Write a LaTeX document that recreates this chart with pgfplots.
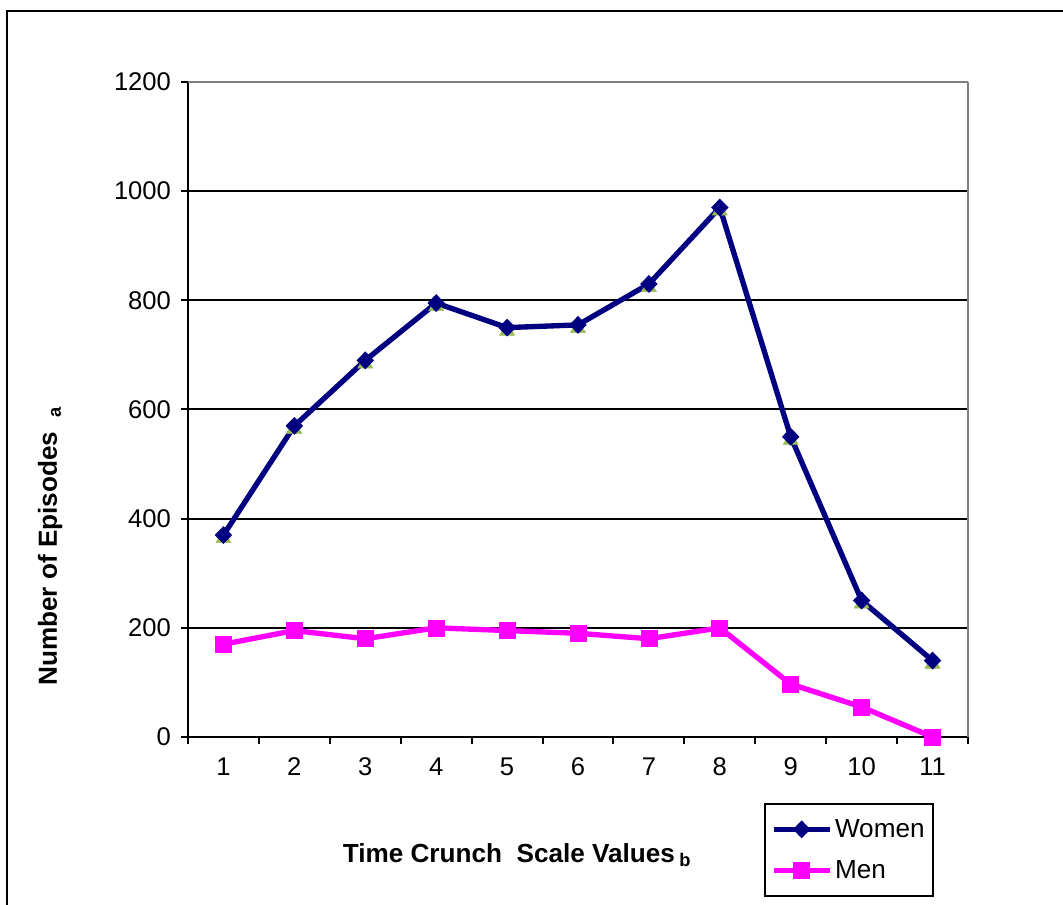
\documentclass[border=0pt]{standalone}
\usepackage{pgfplots}
\pgfplotsset{compat=1.18}
\usepackage{fontspec}
\setmainfont{Liberation Sans}
\definecolor{navyc}{HTML}{000080}
\definecolor{magc}{HTML}{FF00FF}
\definecolor{trig}{HTML}{9BBB59}
\begin{document}
\begin{tikzpicture}
\path[use as bounding box] (0,0) rectangle (797.25pt,678pt);
\draw[line width=1.5pt] (5.6pt,-20pt) rectangle (820pt,669.75pt);
\begin{axis}[
  at={(141pt,125.25pt)}, anchor=origin,
  width=585pt, height=491.25pt, scale only axis,
  xmin=0.5, xmax=11.5, ymin=0, ymax=1200,
  axis x line*=bottom, axis y line*=left,
  axis line style={-, black, line width=1.5pt},
  ytick={0,200,...,1000},
  extra y ticks={1200},
  extra y tick style={grid style={gray, line width=1.5pt}},
  ymajorgrids,
  grid style={black, line width=1.5pt},
  xtick={0.5,1.5,...,11.5},
  xticklabels={1,2,3,4,5,6,7,8,9,10,11,{}},
  xticklabel style={xshift=26.59pt, yshift=-7pt},
  yticklabel style={xshift=-4pt},
  major tick length=5.25pt,
  tick align=outside,
  tick style={black, line width=1.5pt},
  ticklabel style={font=\fontsize{19.2}{21}\selectfont},
  /pgf/number format/assume math mode=true,
  /pgf/number format/1000 sep={},
  clip=false,
  legend style={at={(0.7385,-0.1008)}, anchor=north west, draw=black, line width=1.5pt,
    font=\fontsize{19.6}{22}\selectfont, inner xsep=4.5pt, inner ysep=9.5pt, row sep=12pt,
    legend cell align=left},
  legend image code/.code={\draw[mark repeat=2,mark phase=2,#1] plot coordinates {(0pt,0pt) (21pt,0pt) (42pt,0pt)};},
]
\addplot[forget plot, draw=none, mark=triangle*, mark size=6.5pt, mark options={fill=trig, draw=trig, yshift=-2.5pt}]
 coordinates {(1,370) (2,570) (3,690) (4,795) (5,750) (6,755) (7,830) (8,970) (9,550) (10,250) (11,140)};
\addplot[navyc, line width=4pt, mark=diamond*, mark size=6pt, mark options={fill=navyc, draw=navyc, line width=1pt, xscale=1.3}]
 coordinates {(1,370) (2,570) (3,690) (4,795) (5,750) (6,755) (7,830) (8,970) (9,550) (10,250) (11,140)};
\addlegendentry{Women}
\addplot[magc, line width=4pt, mark=square*, mark size=6pt, mark options={fill=magc, draw=magc, line width=0.5pt}]
 coordinates {(1,170) (2,195) (3,180) (4,200) (5,195) (6,190) (7,180) (8,200) (9,97) (10,55) (11,0)};
\addlegendentry{Men}
\draw[gray, line width=1.5pt] (axis cs:11.5,0) -- (axis cs:11.5,1200);
\end{axis}
\node[font=\fontsize{19.6}{22}\selectfont\bfseries] at (387.75pt,36.75pt) {Time Crunch\ \ Scale Values\,\textsubscript{b}};
\node[font=\fontsize{19.6}{22}\selectfont\bfseries, rotate=90] at (37.5pt,268.5pt) {Number of Episodes\ \ \textsubscript{a}};
\end{tikzpicture}
\end{document}
